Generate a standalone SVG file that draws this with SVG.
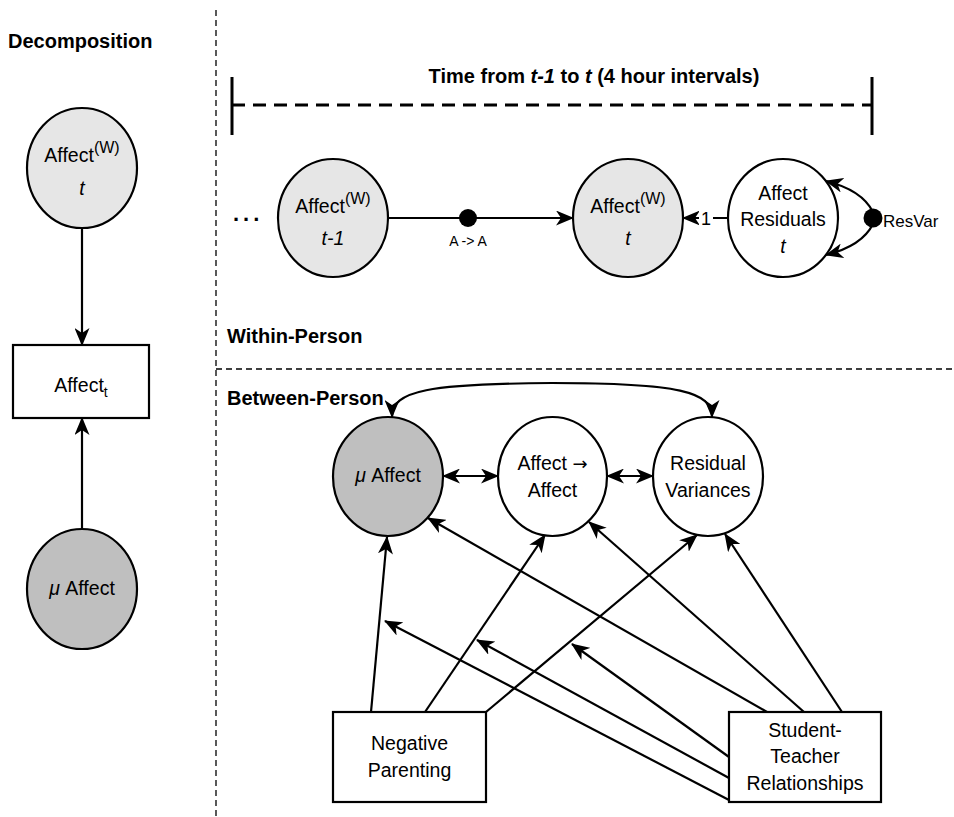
<svg xmlns="http://www.w3.org/2000/svg" width="954" height="817" viewBox="0 0 954 817">
  <style>
    text { font-family: "Liberation Sans", Arial, sans-serif; fill: #000; }
    .title { font-size: 20px; font-weight: bold; }
    .lbl { font-size: 19.5px; text-anchor: middle; }
    .sm { font-size: 14px; }
    .it { font-style: italic; }
    .sym { font-family: "DejaVu Sans", sans-serif; font-size: 18px; }
    .node { stroke: #000; stroke-width: 2.2; }
    .light { fill: #e6e6e6; }
    .dark { fill: #bfbfbf; }
    .white { fill: #fff; }
    .edge { fill: none; stroke: #000; stroke-width: 2.2; }
    .arr { marker-end: url(#head); }
    .bi { marker-start: url(#head); marker-end: url(#head); }
    .divider { fill: none; stroke: #000; stroke-width: 1.3; stroke-dasharray: 6 4; }
  </style>
  <defs>
    <marker id="head" viewBox="0 0 18 15" refX="17" refY="7.5" markerWidth="18" markerHeight="15" markerUnits="userSpaceOnUse" orient="auto-start-reverse">
      <path d="M0,0 L18,7.5 L0,15 L5,7.5 Z" fill="#000"/>
    </marker>
  </defs>
  <rect width="954" height="817" fill="#fff"/>

  <!-- panel dividers -->
  <g id="dividers">
    <path class="divider" d="M216 10 V817"/>
    <path class="divider" d="M216 369 H954"/>
  </g>

  <!-- section headings -->
  <g id="headings">
    <text class="title" x="8" y="48">Decomposition</text>
    <text class="title" x="227" y="343">Within-Person</text>
    <text class="title" x="227" y="405">Between-Person</text>
  </g>

  <!-- time span bar -->
  <g id="timebar">
    <text class="title" x="594" y="83" text-anchor="middle">Time from <tspan class="it">t-1</tspan> to <tspan class="it">t</tspan> (4 hour intervals)</text>
    <path d="M232 105 H872" fill="none" stroke="#000" stroke-width="3" stroke-dasharray="13 8"/>
    <path d="M232 77 V135 M872 77 V135" fill="none" stroke="#000" stroke-width="3"/>
  </g>

  <!-- connectors -->
  <g id="connectors">
    <!-- decomposition -->
    <path class="edge arr" d="M82 228 V345"/>
    <path class="edge arr" d="M82 529 V418"/>
    <!-- within-person -->
    <path class="edge arr" d="M389 218 H573"/>
    <path class="edge arr" d="M728 218 H683"/>
    <path class="edge arr" d="M873 212 Q862 190 826 181"/>
    <path class="edge arr" d="M873 224 Q862 246 826 255"/>
    <!-- between-person covariances -->
    <path class="edge bi" d="M443 476 H498"/>
    <path class="edge bi" d="M607 476 H653"/>
    <path class="edge bi" d="M392 417 C392 390 430 384 552 383 C680 383 712 392 712 417"/>
    <!-- negative parenting paths -->
    <path class="edge arr" d="M371 712 L387 537"/>
    <path class="edge arr" d="M425 712 L545 535"/>
    <path class="edge arr" d="M486 712 L697 535"/>
    <!-- student-teacher paths -->
    <path class="edge arr" d="M767 712 L428 518"/>
    <path class="edge arr" d="M804 712 L589 522"/>
    <path class="edge arr" d="M842 712 L725 534"/>
    <!-- moderation paths -->
    <path class="edge arr" d="M729 800 L385 621"/>
    <path class="edge arr" d="M729 778 L477 640"/>
    <path class="edge arr" d="M729 757 L572 644"/>
  </g>

  <!-- path labels -->
  <g id="labels">
    <circle cx="468" cy="218" r="9" fill="#000"/>
    <text class="sm" x="468" y="246" text-anchor="middle">A -&gt; A</text>
    <rect x="699" y="208" width="14" height="20" fill="#fff"/>
    <text x="706" y="225" font-size="18" text-anchor="middle">1</text>
    <circle cx="873" cy="218" r="9.5" fill="#000"/>
    <text x="883" y="227" font-size="17">ResVar</text>
  </g>

  <!-- decomposition nodes -->
  <g id="dec-within">
    <ellipse class="node light" cx="82" cy="168" rx="55" ry="60"/>
    <text class="lbl" x="82" y="162"><tspan>Affect</tspan><tspan font-size="16" dy="-9">(W)</tspan></text>
    <text class="lbl it" x="82" y="195">t</text>
  </g>
  <g id="dec-observed">
    <rect class="node white" x="13" y="345" width="136" height="73"/>
    <text class="lbl" x="81" y="392"><tspan>Affect</tspan><tspan font-size="14" dy="5">t</tspan></text>
  </g>
  <g id="dec-mean">
    <ellipse class="node dark" cx="82" cy="589" rx="55" ry="60"/>
    <text class="lbl" x="82" y="595"><tspan class="it">μ</tspan> Affect</text>
  </g>

  <!-- within-person nodes -->
  <g id="dots">
    <text x="233" y="221" font-size="22" font-weight="bold" letter-spacing="4">...</text>
  </g>
  <g id="affect-prev">
    <ellipse class="node light" cx="333" cy="218" rx="55" ry="59"/>
    <text class="lbl" x="333" y="213"><tspan>Affect</tspan><tspan font-size="16" dy="-9">(W)</tspan></text>
    <text class="lbl it" x="333" y="245">t-1</text>
  </g>
  <g id="affect-now">
    <ellipse class="node light" cx="628" cy="218" rx="55" ry="59"/>
    <text class="lbl" x="628" y="213"><tspan>Affect</tspan><tspan font-size="16" dy="-9">(W)</tspan></text>
    <text class="lbl it" x="628" y="245">t</text>
  </g>
  <g id="residuals">
    <ellipse class="node white" cx="783" cy="218" rx="55" ry="59"/>
    <text class="lbl" x="783" y="200">Affect</text>
    <text class="lbl" x="783" y="226">Residuals</text>
    <text class="lbl it" x="783" y="253">t</text>
  </g>

  <!-- between-person nodes -->
  <g id="mu-affect">
    <ellipse class="node dark" cx="388" cy="476.5" rx="55" ry="59.5"/>
    <text class="lbl" x="388" y="482"><tspan class="it">μ</tspan> Affect</text>
  </g>
  <g id="inertia">
    <ellipse class="node white" cx="552.5" cy="476.5" rx="54.5" ry="59.5"/>
    <text class="lbl" x="552.5" y="470">Affect <tspan class="sym">→</tspan></text>
    <text class="lbl" x="552.5" y="497">Affect</text>
  </g>
  <g id="res-var">
    <ellipse class="node white" cx="708" cy="476.5" rx="55" ry="59.5"/>
    <text class="lbl" x="708" y="470">Residual</text>
    <text class="lbl" x="708" y="497">Variances</text>
  </g>
  <g id="neg-parenting">
    <rect class="node white" x="333" y="712" width="153" height="90"/>
    <text class="lbl" x="409.5" y="750">Negative</text>
    <text class="lbl" x="409.5" y="777">Parenting</text>
  </g>
  <g id="st-relationships">
    <rect class="node white" x="729" y="712" width="152" height="90"/>
    <text class="lbl" x="805" y="737">Student-</text>
    <text class="lbl" x="805" y="763">Teacher</text>
    <text class="lbl" x="805" y="790">Relationships</text>
  </g>
</svg>
